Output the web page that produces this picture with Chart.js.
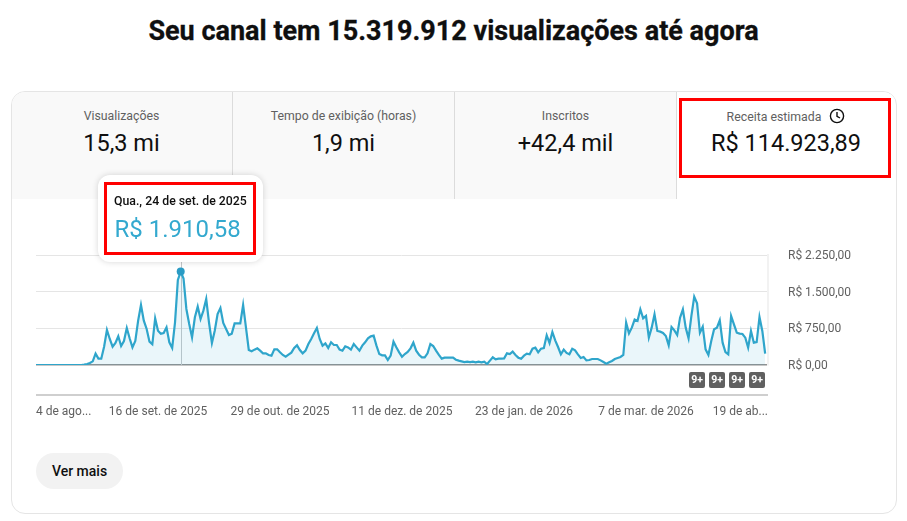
<!DOCTYPE html>
<html lang="pt-BR">
<head>
<meta charset="utf-8">
<title>Receita estimada</title>
<script src="https://cdn.jsdelivr.net/npm/chart.js@4"></script>
<style>
    * { box-sizing: border-box; }
    html, body { margin: 0; background: #fff; font-family: Roboto, sans-serif; color: #0f0f0f; }
    #page { position: relative; width: 907px; height: 521px; overflow: hidden; }
    #page > * { position: absolute; }
    h1 { left: 0; width: 907px; top: 14px; margin: 0; text-align: center; font-size: 27px; line-height: 34px; font-weight: 700; -webkit-text-stroke: 0.3px #0f0f0f; }
    #card { left: 11px; top: 91px; width: 886px; height: 423px; border: 1px solid #e5e5e5; border-radius: 14px; overflow: hidden; }
    .tab { position: absolute; top: 0; height: 107px; width: 222px; background: #f9f9f9; border-right: 1px solid #dcdcdc; text-align: center; }
    .tab.active { background: #fff; border-right: 0; width: 218px; }
    .tab .name { position: absolute; left: 0; right: 0; top: 16px; font-size: 12.3px; line-height: 16px; color: #606060; }
    .tab .num { position: absolute; left: 0; right: 0; top: 36px; font-size: 23.5px; line-height: 30px; }
    .tab svg { vertical-align: -3px; margin-left: 8px; }
    canvas { left: 0; top: 0; }
    .badge { top: 372px; width: 16px; height: 16px; border-radius: 2px; background: #606060; color: #fff; font-size: 10.5px; line-height: 16px; font-weight: 700; text-align: center; }
    #tip { left: 98px; top: 175px; width: 165px; height: 87px; background: #fff; border-radius: 12px; box-shadow: 0 0 6px rgba(0, 0, 0, .16); }
    #tip .date { position: absolute; left: 16px; top: 18px; font-size: 12.3px; line-height: 16px; font-weight: 500; white-space: nowrap; }
    #tip .val { position: absolute; left: 16.5px; top: 39px; font-size: 24px; line-height: 30px; color: #33a9cf; white-space: nowrap; }
    .mark { border: 3px solid #f00; }
    #more { left: 36px; top: 453px; width: 87px; height: 36px; border-radius: 18px; background: #f2f2f2; text-align: center; font-size: 14px; line-height: 36px; font-weight: 500; }
</style>
</head>
<body>
<div id="page">
    <h1>Seu canal tem 15.319.912 visualizações até agora</h1>
    <div id="card"></div>
    <canvas id="chart-revenue" width="907" height="521"></canvas>
    <div id="tip"><div class="date"></div><div class="val"></div></div>
    <div class="mark" style="left:104px;top:182px;width:152px;height:73px"></div>
    <div class="mark" style="left:679px;top:98px;width:212px;height:80px"></div>
    <div id="more">Ver mais</div>
</div>
<script>
    const tabNames = ['Visualizações', 'Tempo de exibição (horas)', 'Inscritos', 'Receita estimada'];
    const tabValues = ['15,3 mi', '1,9 mi', '+42,4 mil', 'R$ 114.923,89'];

    // Daily revenue in BRL, starting on 4 Aug 2025
    const dailyRevenue = [
        0, 0, 0, 0, 0, 0, 0, 0, 0, 0, 0, 0, 0, 0, 0, 0, 0,
        7, 20, 40, 75, 232, 130, 130, 375, 716, 532, 375, 450, 587,
        389, 491, 757, 546, 361, 491, 907, 1228, 907, 737, 477, 423, 955,
        702, 641, 655, 771, 464, 348, 873, 1740, 1910.58, 1770, 1146, 839, 566,
        975, 1193, 941, 1112, 1350, 859, 450, 702, 1043, 1166, 859, 737, 614,
        641, 852, 852, 852, 1228, 771, 307, 280, 314, 341, 293, 239, 239,
        205, 191, 320, 320, 259, 205, 170, 211, 252, 348, 402, 307, 239,
        293, 430, 532, 648, 757, 532, 396, 443, 348, 464, 409, 409, 314,
        293, 382, 361, 314, 430, 361, 293, 396, 464, 546, 587, 600, 396,
        225, 198, 198, 102, 191, 477, 361, 259, 170, 225, 266, 341, 457,
        293, 211, 157, 157, 239, 430, 389, 293, 205, 130, 150, 150, 150,
        150, 109, 89, 75, 61, 68, 61, 68, 55, 68, 55, 68, 20,
        89, 157, 116, 130, 130, 136, 239, 225, 273, 205, 150, 130, 191,
        232, 218, 334, 355, 259, 334, 348, 607, 450, 675, 505, 368, 218,
        314, 246, 218, 334, 300, 218, 143, 164, 95, 102, 123, 123, 123,
        95, 61, 27, 55, 82, 123, 143, 164, 205, 866, 648, 764, 928,
        900, 1139, 955, 1003, 559, 764, 1037, 696, 682, 655, 593, 402, 777,
        709, 614, 968, 1139, 764, 546, 1003, 1398, 1262, 661, 784, 321, 205,
        491, 730, 764, 914, 457, 266, 218, 1003, 832, 661, 641, 634, 559,
        355, 696, 457, 470, 982, 696, 232
    ];

    const tickDays = [0, 43, 86, 129, 172, 215, 258];
    const tickLabels = ['4 de ago...', '16 de set. de 2025', '29 de out. de 2025', '11 de dez. de 2025', '23 de jan. de 2026', '7 de mar. de 2026', '19 de ab...'];
    const revenueTicks = [0, 750, 1500, 2250];
    const revenueTickLabels = ['R$ 0,00', 'R$ 750,00', 'R$ 1.500,00', 'R$ 2.250,00'];

    const peakDay = 51;
    const peakDate = 'Qua., 24 de set. de 2025';
    const peakLabel = 'R$ 1.910,58';
    const badgeLefts = [689, 709, 729, 749];

    // Metric tabs along the top of the card
    const card = document.getElementById('card');
    tabNames.forEach((name, i) => {
        const tab = document.createElement('div');
        tab.className = 'tab' + (i === 3 ? ' active' : '');
        tab.style.left = i * 222 - 1 + 'px';
        const clock = i === 3
            ? '<svg width="16" height="16" viewBox="0 0 16 16" fill="none" stroke="#0f0f0f" stroke-width="1.4"><circle cx="8" cy="8" r="6.6"/><path d="M8 4v4.3l3 1.7"/></svg>'
            : '';
        tab.innerHTML = `<div class="name">${name}${clock}</div><div class="num">${tabValues[i]}</div>`;
        card.appendChild(tab);
    });

    const page = document.getElementById('page');
    badgeLefts.forEach(left => {
        const badge = document.createElement('div');
        badge.className = 'badge';
        badge.style.left = left + 'px';
        badge.textContent = '9+';
        page.appendChild(badge);
    });

    document.querySelector('#tip .date').textContent = peakDate;
    document.querySelector('#tip .val').textContent = peakLabel;

    // Thin vertical guide under the hovered day, plus the rule below the badge row
    const peakGuide = {
        id: 'peakGuide',
        beforeDatasetsDraw(chart) {
            const x = chart.scales.x.getPixelForValue(peakDay);
            const { ctx, chartArea } = chart;
            ctx.save();
            ctx.strokeStyle = '#c4c8ca';
            ctx.lineWidth = 1;
            ctx.beginPath();
            ctx.moveTo(Math.round(x) + 0.5, chartArea.top + 7);
            ctx.lineTo(Math.round(x) + 0.5, chartArea.bottom);
            ctx.stroke();
            ctx.fillStyle = '#cfcfcf';
            ctx.fillRect(chartArea.left, chartArea.bottom + 29, chartArea.width, 2);
            ctx.restore();
        }
    };

    new Chart(document.getElementById('chart-revenue'), {
        type: 'line',
        plugins: [peakGuide],
        data: {
            datasets: [{
                data: dailyRevenue.map((v, i) => ({ x: i, y: v })),
                borderColor: '#2fa5cb',
                borderWidth: 2.2,
                backgroundColor: 'rgba(47, 165, 203, 0.1)',
                fill: 'origin',
                tension: 0,
                pointRadius: ctx => (ctx.dataIndex === peakDay ? 4 : 0),
                pointBackgroundColor: '#2a9bc4',
                pointBorderWidth: 0
            }]
        },
        options: {
            responsive: false,
            animation: false,
            layout: { padding: { left: 36, top: 255 } },
            plugins: { legend: { display: false }, tooltip: { enabled: false } },
            scales: {
                x: {
                    type: 'linear',
                    min: 0,
                    max: 258,
                    afterBuildTicks: axis => { axis.ticks = tickDays.map(value => ({ value })); },
                    afterFit: axis => { axis.height = 156; axis.paddingLeft = 0; axis.paddingRight = 0; },
                    grid: { display: false },
                    border: { display: false },
                    ticks: {
                        align: 'inner',
                        autoSkip: false,
                        maxRotation: 0,
                        padding: 32,
                        color: '#606060',
                        font: { family: 'Roboto', size: 12 },
                        callback: value => tickLabels[tickDays.indexOf(value)]
                    }
                },
                y: {
                    position: 'right',
                    min: 0,
                    max: 2250,
                    afterBuildTicks: axis => { axis.ticks = revenueTicks.map(value => ({ value })); },
                    afterFit: axis => { axis.width = 139; },
                    grid: {
                        drawTicks: false,
                        color: ctx => (ctx.tick.value === 0 ? '#909090' : '#e5e5e5'),
                        lineWidth: ctx => (ctx.tick.value === 0 ? 1.5 : 1)
                    },
                    border: { display: true, color: '#f2f2f2', width: 2 },
                    ticks: {
                        padding: 20,
                        labelOffset: 1,
                        color: '#606060',
                        font: { family: 'Roboto', size: 12 },
                        callback: value => revenueTickLabels[revenueTicks.indexOf(value)]
                    }
                }
            }
        }
    });
</script>
</body>
</html>
